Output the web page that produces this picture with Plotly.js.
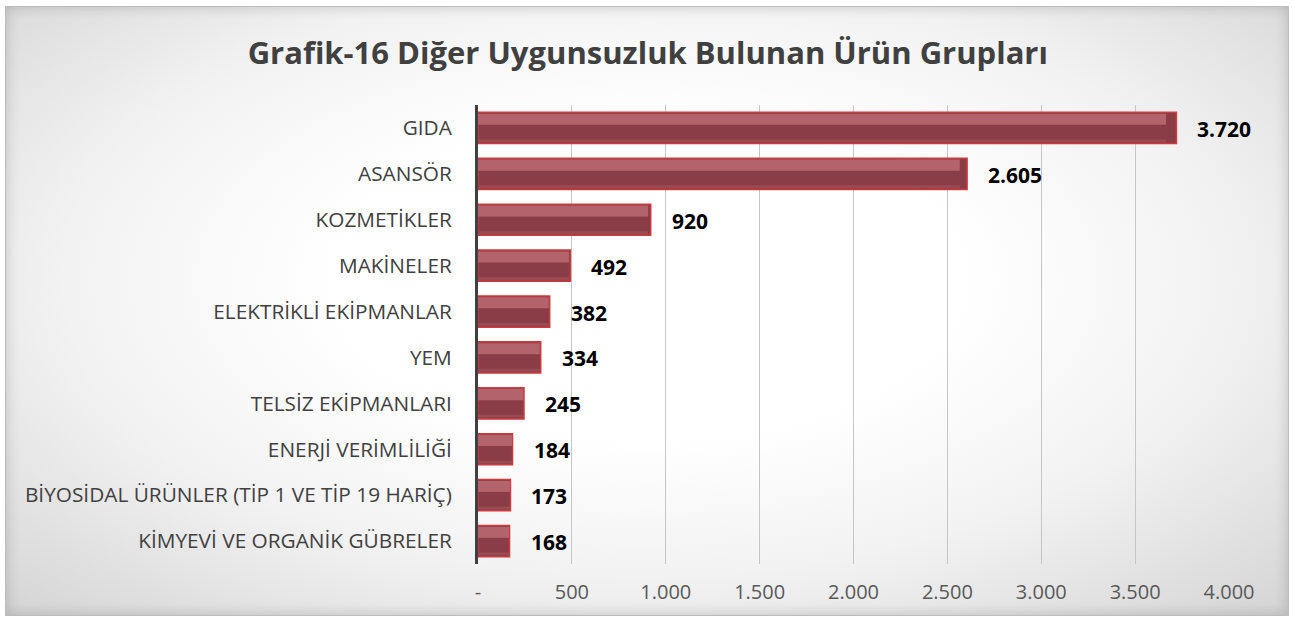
<!DOCTYPE html>
<html>
<head>
<meta charset="utf-8">
<script src="https://cdn.plot.ly/plotly-3.0.1.min.js"></script>
<style>
  html, body { margin: 0; padding: 0; background: #ffffff; }
  #frame {
    position: absolute; left: 5px; top: 6px; width: 1282px; height: 608px;
    border: 1px solid #bdbdbd;
    background: radial-gradient(ellipse 70% 75% at 50% 45%, #ffffff 35%, #f2f2f2 65%, #d6d6d6 100%);
    box-shadow: inset 0 0 14px rgba(0,0,0,0.18);
  }
  #chart { position: absolute; left: 0; top: 0; width: 1293px; height: 621px; }
</style>
</head>
<body>
<div id="frame"></div>
<div id="chart"></div>
<script>
const categories = [
  "GIDA",
  "ASANSÖR",
  "KOZMETİKLER",
  "MAKİNELER",
  "ELEKTRİKLİ EKİPMANLAR",
  "YEM",
  "TELSİZ EKİPMANLARI",
  "ENERJİ VERİMLİLİĞİ",
  "BİYOSİDAL ÜRÜNLER (TİP 1 VE TİP 19 HARİÇ)",
  "KİMYEVİ VE ORGANİK GÜBRELER"
];
const values = [3720, 2605, 920, 492, 382, 334, 245, 184, 173, 168];
const valueLabels = ["3.720", "2.605", "920", "492", "382", "334", "245", "184", "173", "168"];
const xTickVals = [0, 500, 1000, 1500, 2000, 2500, 3000, 3500, 4000];
const xTickText = ["-", "500", "1.000", "1.500", "2.000", "2.500", "3.000", "3.500", "4.000"];

const FONT = "'Open Sans', 'Noto Sans', sans-serif";

const base = {
  type: "bar", orientation: "h", x: values, y: categories,
  width: 0.68,
  marker: { color: "#8a3d46", line: { color: "#cf3a3e", width: 1.5 } },
  hoverinfo: "skip"
};
const highlight = {
  type: "bar", orientation: "h", x: values.map(v => v * 0.985), y: categories,
  width: 0.24, offset: -0.31,
  marker: { color: "#b2636b", line: { width: 0 } },
  hoverinfo: "skip"
};
const shadow = {
  type: "bar", orientation: "h", x: values.map(v => v * 0.985), y: categories,
  width: 0.06, offset: 0.25,
  marker: { color: "#9a4a52", line: { width: 0 } },
  hoverinfo: "skip"
};

const annotations = categories.map((c, i) => ({
  x: values[i], y: c, xref: "x", yref: "y",
  text: "<b>" + valueLabels[i] + "</b>", showarrow: false,
  xanchor: "left", yanchor: "middle", xshift: 19, yshift: -1,
  font: { family: FONT, size: 21, color: "#000000" }
}));

const layout = {
  width: 1293, height: 621,
  paper_bgcolor: "rgba(0,0,0,0)", plot_bgcolor: "rgba(0,0,0,0)",
  margin: { l: 478, r: 64, t: 105, b: 57 },
  barmode: "overlay",
  showlegend: false,
  title: {
    text: "<b>Grafik-16 Diğer Uygunsuzluk Bulunan Ürün Grupları</b>",
    x: 0.501, xanchor: "center", y: 0.915, yanchor: "middle",
    font: { family: FONT, size: 31, color: "#404040" }
  },
  xaxis: {
    range: [0, 4000], tickvals: xTickVals, ticktext: xTickText,
    showgrid: true, gridcolor: "#c6c6c6", gridwidth: 1,
    zeroline: false, showline: false, ticks: "",
    ticklabelstandoff: 14,
    tickfont: { family: FONT, size: 20, color: "#595959" }
  },
  yaxis: {
    autorange: "reversed", showgrid: false, zeroline: false,
    showline: true, linecolor: "#404040", linewidth: 3, ticks: "",
    ticklabelstandoff: 19,
    tickfont: { family: FONT, size: 20.8, color: "#404040" }
  },
  annotations: annotations
};

Plotly.newPlot("chart", [base, highlight, shadow], layout, { displayModeBar: false, staticPlot: true });
</script>
</body>
</html>
